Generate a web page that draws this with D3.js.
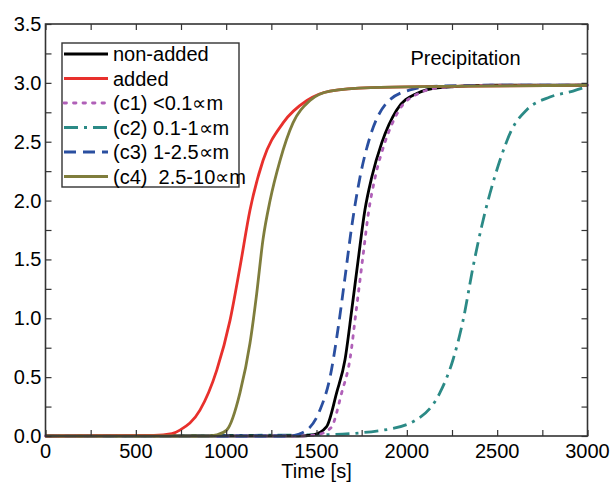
<!DOCTYPE html>
<html>
<head>
<meta charset="utf-8">
<script src="https://cdn.jsdelivr.net/npm/d3@7"></script>
<style>
  body { margin: 0; background: #fff; }
  text { font-family: 'Liberation Sans', Arial, sans-serif; }
</style>
</head>
<body>
<div id="chart"></div>
<script>
// values: [time (s), precipitation]
const nonAdded = [[0, 0], [1400, 0], [1482, 0.01], [1556, 0.08], [1612, 0.37], [1658, 0.65], [1695, 1.07], [1731, 1.5], [1768, 1.92], [1806, 2.2], [1861, 2.49], [1944, 2.77], [2055, 2.91], [2184, 2.96], [2500, 2.98], [3000, 2.98]]
const added = [[0, 0], [600, 0.005], [700, 0.02], [744, 0.05], [855, 0.22], [948, 0.56], [1021, 0.98], [1077, 1.44], [1132, 1.92], [1204, 2.34], [1315, 2.66], [1447, 2.85], [1575, 2.93], [1800, 2.96], [2200, 2.97], [3000, 2.98]]
const c1 = [[0, 0], [1420, 0], [1500, 0.01], [1580, 0.07], [1640, 0.37], [1685, 0.65], [1720, 1.07], [1755, 1.5], [1790, 1.92], [1825, 2.2], [1878, 2.49], [1958, 2.77], [2065, 2.91], [2190, 2.96], [2500, 2.98], [3000, 2.98]]
const c2 = [[0, 0], [1519, 0.01], [1870, 0.05], [2055, 0.14], [2184, 0.37], [2256, 0.65], [2311, 0.98], [2367, 1.44], [2414, 1.78], [2460, 2.06], [2515, 2.34], [2580, 2.6], [2663, 2.77], [2792, 2.88], [2920, 2.93], [3000, 2.97]]
const c3 = [[0, 0], [1350, 0], [1425, 0.03], [1519, 0.22], [1575, 0.5], [1621, 0.93], [1658, 1.35], [1695, 1.78], [1741, 2.2], [1796, 2.54], [1889, 2.83], [2017, 2.94], [2145, 2.97], [2500, 2.98], [3000, 2.98]]
const c4 = [[0, 0], [900, 0], [948, 0.01], [1003, 0.05], [1077, 0.37], [1132, 0.79], [1169, 1.21], [1204, 1.67], [1243, 2.0], [1298, 2.34], [1370, 2.66], [1464, 2.85], [1575, 2.93], [1800, 2.96], [2200, 2.97], [3000, 2.98]]

const seriesNames = ['non-added', 'added', '(c1) <0.1\u221dm', '(c2) 0.1-1\u221dm', '(c3) 1-2.5\u221dm', '(c4)  2.5-10\u221dm']
const xTicks = [0, 500, 1000, 1500, 2000, 2500, 3000]
const yTicks = [0, 0.5, 1, 1.5, 2, 2.5, 3, 3.5]

const series = [
  { name: seriesNames[0], data: nonAdded, color: '#000000', dash: null, cap: 'butt' },
  { name: seriesNames[1], data: added, color: '#e8302c', dash: null, cap: 'butt' },
  { name: seriesNames[2], data: c1, color: '#b060b8', dash: '2.5,7', cap: 'round' },
  { name: seriesNames[3], data: c2, color: '#2b8a86', dash: '14,6,3,6', cap: 'butt' },
  { name: seriesNames[4], data: c3, color: '#2a4fa0', dash: '12,7', cap: 'butt' },
  { name: seriesNames[5], data: c4, color: '#7f7d3c', dash: null, cap: 'butt' }
]

const margin = { top: 24, left: 45.5, right: 27.5, bottom: 49 }
const width = 615 - margin.left - margin.right
const height = 485 - margin.top - margin.bottom

const svg = d3
  .select('#chart')
  .append('svg')
  .attr('width', 615)
  .attr('height', 485)
  .append('g')
  .attr('transform', 'translate(' + margin.left + ',' + margin.top + ')')

const xScale = d3.scaleLinear().domain([0, 3000]).range([0, width])
const yScale = d3.scaleLinear().domain([0, 3.5]).range([height, 0])

const line = d3
  .line()
  .x(d => xScale(d[0]))
  .y(d => yScale(d[1]))
  .curve(d3.curveMonotoneX)

const plot = svg.append('g')

// draw order: teal, purple, blue, black, red, olive on top
const order = [3, 0, 2, 4, 1, 5]
order.forEach(i => {
  const s = series[i]
  plot
    .append('path')
    .datum(s.data)
    .attr('d', line)
    .attr('fill', 'none')
    .attr('stroke', s.color)
    .attr('stroke-width', 2.8)
    .attr('stroke-linecap', s.cap)
    .attr('stroke-dasharray', s.dash)
})

// axes, ticks pointing inward on all four sides
const minorX = d3.range(0, 3001, 250)
const minorY = d3.range(0, 3.51, 0.25)
const tickLen = 6

svg.append('g')
  .attr('transform', 'translate(0,' + height + ')')
  .call(d3.axisBottom(xScale).tickValues(minorX).tickSize(-tickLen).tickFormat(''))
svg.append('g')
  .call(d3.axisTop(xScale).tickValues(minorX).tickSize(-tickLen).tickFormat(''))
svg.append('g')
  .call(d3.axisLeft(yScale).tickValues(minorY).tickSize(-tickLen).tickFormat(''))
svg.append('g')
  .attr('transform', 'translate(' + width + ',0)')
  .call(d3.axisRight(yScale).tickValues(minorY).tickSize(-tickLen).tickFormat(''))

svg.selectAll('.domain').remove()
svg.selectAll('.tick line').attr('stroke', '#333').attr('stroke-width', 1.2)

svg.append('rect')
  .attr('width', width)
  .attr('height', height)
  .attr('fill', 'none')
  .attr('stroke', '#333')
  .attr('stroke-width', 1.6)

svg.selectAll('.x-label')
  .data(xTicks)
  .enter()
  .append('text')
  .attr('x', d => xScale(d))
  .attr('y', height + 22)
  .attr('text-anchor', 'middle')
  .attr('font-size', 20)
  .text(d => d)

svg.selectAll('.y-label')
  .data(yTicks)
  .enter()
  .append('text')
  .attr('x', -4)
  .attr('y', d => yScale(d) + 7)
  .attr('text-anchor', 'end')
  .attr('font-size', 20)
  .text(d => d.toFixed(1))

svg.append('text')
  .attr('x', width / 2)
  .attr('y', height + 42)
  .attr('text-anchor', 'middle')
  .attr('font-size', 20)
  .text('Time [s]')

svg.append('text')
  .attr('x', 365)
  .attr('y', 41)
  .attr('font-size', 20)
  .text('Precipitation')

// legend
const legend = svg.append('g').attr('transform', 'translate(16.5,19)')
legend.append('rect')
  .attr('width', 177)
  .attr('height', 144)
  .attr('fill', '#fff')
  .attr('stroke', '#333')
  .attr('stroke-width', 1.4)

series.forEach((s, i) => {
  const y = 11 + i * 24.5
  legend.append('line')
    .attr('x1', 2)
    .attr('x2', 46)
    .attr('y1', y)
    .attr('y2', y)
    .attr('stroke', s.color)
    .attr('stroke-width', 2.8)
    .attr('stroke-linecap', s.cap)
    .attr('stroke-dasharray', s.dash)
  legend.append('text')
    .attr('x', 51)
    .attr('y', y + 7)
    .attr('font-size', 20)
    .attr('xml:space', 'preserve')
    .style('white-space', 'pre')
    .text(s.name)
})
</script>
</body>
</html>
